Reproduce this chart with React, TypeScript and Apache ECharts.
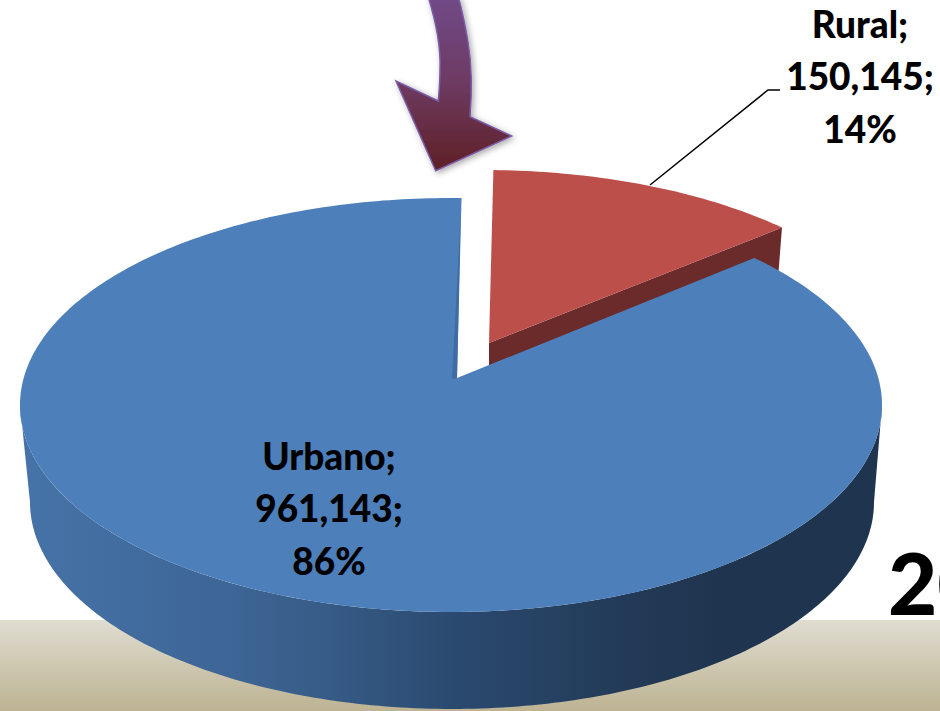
import React, { useEffect, useRef } from "react";
import * as echarts from "echarts";

const categories = ["Rural", "Urbano"];
const values = [150145, 961143];
const yearFragment = "20";

const FONT = "Lato";
const START_ANGLE = 1.6;
const PERSPECTIVE = 27 / 207;
const SQUEEZE = Math.sqrt(1 - PERSPECTIVE * PERSPECTIVE);
const TOP = { cx: 451, cy: 405, rx: 431, ry: 207 };
const BASE = { cx: 452, cy: 502, rx: 422, ry: 207 };
const DISCS = [
  { cx: 483, cy: 369, rx: 425, ry: 199 },
  TOP,
];
const APEX_SHIFT = 6;
const WALL_DEPTH = 90;
const WALL_INSET = 7;
const TOP_COLORS = ["#bd4f4b", "#4d7fbb"];
const LABEL_POS = [
  { x: 860, y: -3 },
  { x: 329, y: 429 },
];

const arrowPath =
  "M428 -4 C436 22 441 48 440 70 C440 82 439 92 438.3 101 L396 81 L435.7 170.7 L511.7 136 L470 116.7 C472 92 472 66 468 42 C465 24 462 10 458 -4 Z";
echarts.graphic.registerShape("arrow", echarts.graphic.extendPath(arrowPath, {}) as any);

function rim(d: typeof TOP, deg: number): number[] {
  const a = (deg * Math.PI) / 180;
  const u = Math.sin(a);
  const v = Math.cos(a);
  const den = 1 + PERSPECTIVE * v;
  return [d.cx + (d.rx * u * SQUEEZE) / den, d.cy - (d.ry * (v + PERSPECTIVE)) / den];
}

function apex(d: typeof TOP): number[] {
  return [d.cx + APEX_SHIFT, d.cy - d.ry * PERSPECTIVE];
}

function arcPoints(d: typeof TOP, from: number, to: number): number[][] {
  const pts: number[][] = [];
  const n = Math.ceil(Math.abs(to - from));
  for (let i = 0; i <= n; i++) pts.push(rim(d, from + ((to - from) * i) / n));
  return pts;
}

function ellipsePoint(d: typeof TOP, deg: number): number[] {
  const a = (deg * Math.PI) / 180;
  return [d.cx + d.rx * Math.cos(a), d.cy + d.ry * Math.sin(a)];
}

function sideSilhouette(): number[][] {
  const pts: number[][] = [];
  for (let a = 180; a >= 0; a -= 1) pts.push(ellipsePoint(TOP, a));
  for (let a = 0; a <= 180; a += 1) pts.push(ellipsePoint(BASE, a));
  return pts;
}

function renderSlice(params: any, api: any) {
  const i = params.dataIndex;
  const total = values.reduce((s, v) => s + v, 0);
  let before = 0;
  for (let j = 0; j < i; j++) before += values[j];
  const from = START_ANGLE + (before / total) * 360;
  const to = from + (api.value(0) / total) * 360;
  const d = DISCS[i];
  const tip = apex(d);
  const children: any[] = [];

  if (i === 0) {
    const end = rim(d, to);
    children.push({
      type: "polygon",
      shape: {
        points: [
          tip,
          end,
          [end[0] - WALL_INSET, end[1] + WALL_DEPTH],
          [tip[0], tip[1] + WALL_DEPTH],
        ],
      },
      style: { fill: "#6b2b2b" },
    });
  } else {
    children.push({
      type: "polygon",
      shape: { points: sideSilhouette() },
      style: {
        fill: new echarts.graphic.LinearGradient(0, 0, 1, 0, [
          { offset: 0, color: "#4673a8" },
          { offset: 0.25, color: "#3d6595" },
          { offset: 0.36, color: "#365b86" },
          { offset: 0.5, color: "#2b4a70" },
          { offset: 0.68, color: "#233c5a" },
          { offset: 0.82, color: "#1f344e" },
          { offset: 1, color: "#1f344e" },
        ]),
      },
    });
  }

  children.push({
    type: "polygon",
    shape: { points: [tip, ...arcPoints(d, from, to)] },
    style: { fill: TOP_COLORS[i] },
  });

  if (i === 1) {
    const s = rim(d, to);
    children.push({
      type: "polygon",
      shape: { points: [[s[0] - 1, s[1] + 18], tip, [tip[0] - 5, tip[1] + 1]] },
      style: { fill: "#3f6ca2" },
    });
  }

  const pct = Math.round((api.value(0) / total) * 100);
  children.push({
    type: "text",
    x: LABEL_POS[i].x,
    y: LABEL_POS[i].y,
    z2: 20,
    style: {
      text: `${categories[i]};\n${api.value(0).toLocaleString("en-US")};\n${pct}%`,
      font: `900 37px ${FONT}`,
      lineHeight: 52.5,
      fill: "#000",
      align: "center",
      verticalAlign: "top",
    },
  });
  return { type: "group", children };
}

export default function App() {
  const ref = useRef<HTMLDivElement>(null);
  useEffect(() => {
    document.body.style.margin = "0";
    document.body.style.overflow = "hidden";
    const chart = echarts.init(ref.current!, undefined, { renderer: "svg" });
    chart.setOption({
      animation: false,
      backgroundColor: "#ffffff",
      graphic: {
        elements: [
          {
            type: "rect",
            z: 0,
            silent: true,
            shape: { x: 0, y: 620, width: 940, height: 91 },
            style: {
              fill: new echarts.graphic.LinearGradient(0, 0, 0, 1, [
                { offset: 0, color: "#e0ddd1" },
                { offset: 0.5, color: "#cec8b1" },
                { offset: 1, color: "#bdb393" },
              ]),
            },
          },
          {
            type: "arrow",
            z: 10,
            style: {
              fill: new echarts.graphic.LinearGradient(0, 0, 0, 1, [
                { offset: 0, color: "#6f4a88" },
                { offset: 0.5, color: "#6e3a62" },
                { offset: 1, color: "#5f2025" },
              ]),
              stroke: "#7b5ca8",
              lineWidth: 1.5,
              shadowBlur: 6,
              shadowColor: "rgba(0,0,0,0.35)",
              shadowOffsetX: 2,
              shadowOffsetY: 2,
            },
          },
          {
            type: "polyline",
            z: 10,
            shape: { points: [[650, 185], [768, 90], [780, 90]] },
            style: { stroke: "#000", lineWidth: 1.5, fill: "none" },
          },
          {
            type: "text",
            z: 10,
            x: 888,
            y: 539,
            style: {
              text: yearFragment,
              font: `900 85px ${FONT}`,
              fill: "#000",
            },
          },
        ],
      },
      series: [
        {
          type: "custom",
          coordinateSystem: "none",
          silent: true,
          z: 5,
          data: values.map((v, i) => ({ name: categories[i], value: v })),
          renderItem: renderSlice,
        },
      ],
    });
    return () => chart.dispose();
  }, []);
  return (
    <div
      ref={ref}
      style={{ position: "fixed", left: 0, top: 0, width: 940, height: 711 }}
    />
  );
}
